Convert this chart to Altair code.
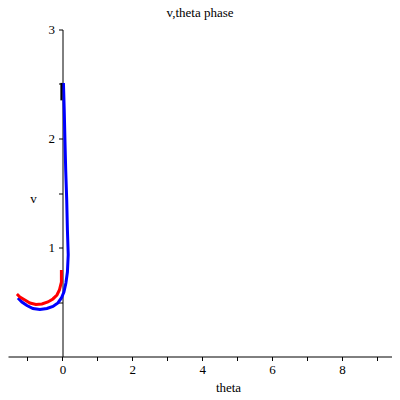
import altair as alt
import pandas as pd

# Curve data (theta, v)
blue_theta = [0.029, 0.052, 0.072, 0.094, 0.123, 0.143, 0.166, 0.143, 0.100, 0.043, -0.029,
              -0.129, -0.272, -0.443, -0.644, -0.844, -1.015, -1.159, -1.273]
blue_v = [2.509, 2.261, 1.986, 1.711, 1.436, 1.161, 0.933, 0.775, 0.674, 0.592, 0.537,
          0.491, 0.459, 0.440, 0.431, 0.440, 0.468, 0.500, 0.537]

red_theta = [-0.029, -0.029, -0.086, -0.157, -0.272, -0.415, -0.587, -0.758, -0.930,
             -1.073, -1.216, -1.302]
red_v = [0.794, 0.683, 0.610, 0.564, 0.528, 0.500, 0.482, 0.477, 0.491, 0.518, 0.546, 0.573]

black_theta = [-0.03, -0.03]
black_v = [2.51, 2.35]

x_ticks = [-1, 0, 1, 2, 3, 4, 5, 6, 7, 8, 9]
y_ticks = [0.5, 1, 1.5, 2, 2.5, 3]
x_domain = [-1.557, 9.43]
y_domain = [0, 3]

def frame(th, v, name):
    return pd.DataFrame({"theta": th, "v": v, "i": list(range(len(th))), "s": name})

FONT = "Liberation Serif"

xenc = alt.X("theta:Q", scale=alt.Scale(domain=x_domain, nice=False, zero=False),
             axis=alt.Axis(values=x_ticks, title="theta", grid=False,
                           labelExpr="datum.value >= 0 && datum.value % 2 == 0 ? datum.label : ''",
                           titleX=220, titleY=35, titleBaseline="alphabetic",
                           titleAlign="center", labelPadding=3))
yenc = alt.Y("v:Q", scale=alt.Scale(domain=y_domain, nice=False, zero=True),
             axis=alt.Axis(values=y_ticks, title="v", grid=False, offset=-54.5,
                           labelExpr="datum.value % 1 == 0 ? format(datum.value, 'd') : ''",
                           titleAngle=0, titleX=-29.5, titleY=172.5,
                           titleBaseline="alphabetic", titleAlign="center",
                           labelPadding=4))

def curve(df, color, w=3):
    return alt.Chart(df).mark_line(color=color, strokeWidth=w, strokeCap="butt").encode(
        x=xenc, y=yenc, order="i:Q")

chart = alt.layer(
    curve(frame(blue_theta, blue_v, "blue"), "#0000ff"),
    curve(frame(red_theta, red_v, "red"), "#ff0000"),
    curve(frame(black_theta, black_v, "black"), "#000000", 2),
).properties(
    width=384, height=327,
    title=alt.TitleParams("v,theta phase", font=FONT, fontSize=13, fontWeight="normal",
                          anchor="middle", offset=4, color="black"),
    autosize=alt.AutoSizeParams(type="none"),
    padding={"left": 0, "top": 21.5, "right": 0, "bottom": 35},
).configure_view(stroke=None).configure_axis(
    domainColor="black", tickColor="black", tickSize=4, domainWidth=1, tickWidth=1,
    labelFont=FONT, labelFontSize=13, labelColor="black",
    titleFont=FONT, titleFontSize=13, titleFontWeight="normal", titleColor="black",
)

chart.save("out.html", embed_options={"renderer": "svg", "actions": False})
